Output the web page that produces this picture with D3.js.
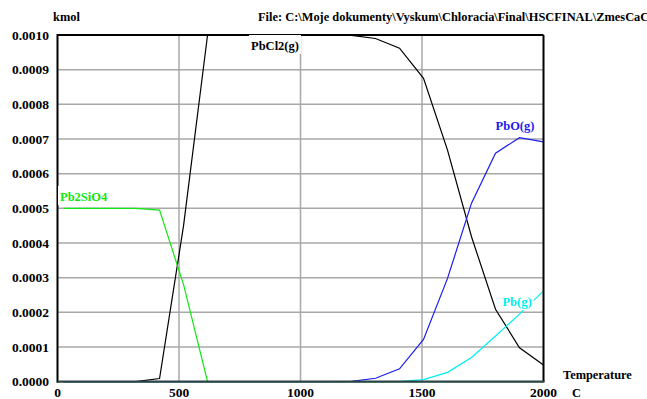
<!DOCTYPE html>
<html>
<head>
<meta charset="utf-8">
<script src="https://cdn.jsdelivr.net/npm/d3@7"></script>
<style>
  body { margin: 0; background: #fff; }
  text { font-family: "Liberation Serif", "Times New Roman", serif; font-weight: bold; }
</style>
</head>
<body>
<div id="graph"></div>
<script>
// temperature steps (C)
const temperatures = [25, 123.75, 222.5, 321.25, 420, 518.75, 617.5, 716.25, 815, 913.75, 1012.5,
  1111.25, 1210, 1308.75, 1407.5, 1506.25, 1605, 1703.75, 1802.5, 1901.25, 2000];

// amounts in kmol
const pbcl2 = [0, 0, 0, 0, 0.000009, 0.00045, 0.001, 0.001, 0.001, 0.001, 0.001,
  0.001, 0.000999, 0.00099, 0.000962, 0.000875, 0.000668, 0.000418, 0.000209, 0.000098, 0.000048];
const pbo = [0, 0, 0, 0, 0, 0, 0, 0, 0, 0, 0,
  0, 0.000001, 0.00001, 0.000037, 0.000122, 0.000298, 0.000515, 0.000659, 0.000704, 0.000692];
const pb = [0, 0, 0, 0, 0, 0, 0, 0, 0, 0, 0,
  0, 0, 0, 0, 0.000006, 0.000027, 0.00007, 0.000132, 0.000195, 0.000262];
const pb2sio4 = [0.0005, 0.0005, 0.0005, 0.0005, 0.000495, 0.00028, 0, 0, 0, 0, 0,
  0, 0, 0, 0, 0, 0, 0, 0, 0, 0];

const xTicks = [0, 500, 1000, 1500, 2000];
const yTicks = [0, 0.0001, 0.0002, 0.0003, 0.0004, 0.0005, 0.0006, 0.0007, 0.0008, 0.0009, 0.001];

const series = [
  {name: "PbCl2(g)", values: pbcl2, color: "#000000", lx: 275, ly: 50, anchor: "middle"},
  {name: "PbO(g)", values: pbo, color: "#1c1cf0", lx: 515, ly: 130, anchor: "middle"},
  {name: "Pb(g)", values: pb, color: "#00f0f0", lx: 517, ly: 306, anchor: "middle"},
  {name: "Pb2SiO4", values: pb2sio4, color: "#10e810", lx: 60, ly: 201, anchor: "start"}
];

const width = 647, height = 399;
const plotLeft = 57.5, plotRight = 543.5, plotTop = 35, plotBottom = 381.7;

const svg = d3.select("#graph")
  .append("svg")
  .attr("width", width)
  .attr("height", height);

const x = d3.scaleLinear().domain([0, 2000]).range([plotLeft, plotRight]);
const y = d3.scaleLinear().domain([0, 0.001]).range([plotBottom, plotTop]);

// grid
svg.append("g").selectAll("line").data(yTicks.slice(1, -1)).enter()
  .append("line")
  .attr("x1", plotLeft).attr("x2", plotRight)
  .attr("y1", d => y(d)).attr("y2", d => y(d))
  .attr("stroke", "#a8a8a8").attr("stroke-width", 1.5);

svg.append("g").selectAll("line").data(xTicks.slice(1, -1)).enter()
  .append("line")
  .attr("x1", d => x(d)).attr("x2", d => x(d))
  .attr("y1", plotTop).attr("y2", plotBottom)
  .attr("stroke", "#a8a8a8").attr("stroke-width", 1.5);

// curves
const line = d3.line()
  .x((d, i) => x(temperatures[i]))
  .y(d => y(d));

svg.append("g").selectAll("path").data(series).enter()
  .append("path")
  .attr("d", d => line(d.values))
  .attr("fill", "none")
  .attr("stroke", d => d.color)
  .attr("stroke-width", 1.2);

// frame
svg.append("line").attr("x1", plotLeft).attr("x2", plotRight).attr("y1", plotTop).attr("y2", plotTop)
  .attr("stroke", "#000").attr("stroke-width", 2);
svg.append("line").attr("x1", plotRight).attr("x2", plotRight).attr("y1", plotTop).attr("y2", plotBottom)
  .attr("stroke", "#000").attr("stroke-width", 2);
svg.append("line").attr("x1", plotLeft).attr("x2", plotLeft).attr("y1", plotTop - 1).attr("y2", plotBottom + 1)
  .attr("stroke", "#000").attr("stroke-width", 2);
svg.append("line").attr("x1", plotLeft).attr("x2", plotRight + 1).attr("y1", plotBottom).attr("y2", plotBottom)
  .attr("stroke", "#2d4346").attr("stroke-width", 2.2);

// curve labels on white boxes
const labels = svg.append("g").selectAll("g").data(series).enter().append("g");
labels.append("text")
  .attr("x", d => d.lx).attr("y", d => d.ly)
  .attr("text-anchor", d => d.anchor)
  .attr("font-size", 12.5)
  .attr("fill", d => d.color)
  .text(d => d.name)
  .each(function() {
    const b = this.getBBox();
    d3.select(this.parentNode).insert("rect", "text")
      .attr("x", b.x - 2).attr("y", b.y - 4)
      .attr("width", b.width + 4).attr("height", b.height + 5)
      .attr("fill", "#fff");
  });

// axis tick labels
svg.append("g").selectAll("text").data(yTicks).enter()
  .append("text")
  .attr("x", 49).attr("y", d => y(d) + 4.5)
  .attr("text-anchor", "end")
  .attr("font-size", 13.5)
  .text(d => d.toFixed(4));

svg.append("g").selectAll("text").data(xTicks).enter()
  .append("text")
  .attr("x", d => x(d)).attr("y", 397)
  .attr("text-anchor", "middle")
  .attr("font-size", 13.5)
  .text(d => d);

svg.append("text").attr("x", 53).attr("y", 21).attr("font-size", 12.4).text("kmol");
svg.append("text").attr("x", 258).attr("y", 21).attr("font-size", 12.4)
  .text("File: C:\\Moje dokumenty\\Vyskum\\Chloracia\\Final\\HSCFINAL\\ZmesCaC");
svg.append("text").attr("x", 563).attr("y", 379).attr("font-size", 12.4).text("Temperature");
svg.append("text").attr("x", 572).attr("y", 397).attr("font-size", 12.4).text("C");
</script>
</body>
</html>
